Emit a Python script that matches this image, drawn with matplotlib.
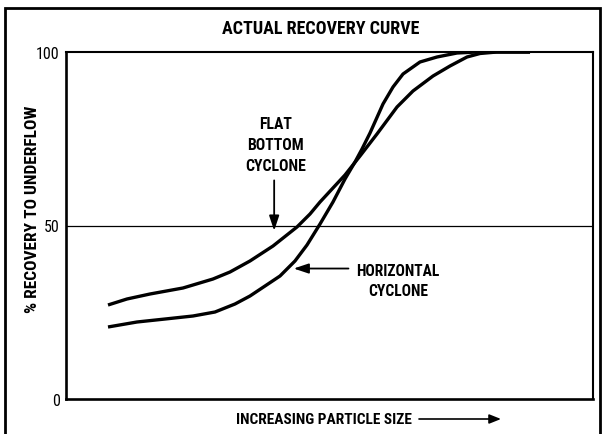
import matplotlib
matplotlib.use("Agg")
import matplotlib.pyplot as plt
from matplotlib.patches import Rectangle, FancyArrowPatch
from matplotlib import font_manager

# ---- data (x = relative particle size 0..100) ----
flat_x = [7.97, 11.57, 15.94, 22.20, 27.89, 31.12, 34.91, 39.28, 43.83, 46.30, 48.20,
          50.66, 52.94, 55.79, 59.01, 62.81, 65.84, 69.64, 72.87, 76.09, 78.56, 81.78,
          85.20, 88.05]
flat_y = [27.09, 28.82, 30.26, 31.99, 34.58, 36.60, 39.77, 44.09, 49.57, 53.31, 56.77,
          60.81, 64.55, 70.03, 76.37, 84.15, 88.76, 93.08, 95.97, 98.56, 99.57, 100.0,
          100.0, 100.0]

horiz_x = [7.97, 13.47, 18.79, 24.10, 28.27, 32.07, 34.91, 37.76, 40.61, 43.45, 45.73,
           48.20, 50.66, 52.94, 54.84, 56.17, 57.69, 60.15, 62.05, 63.95, 67.17, 70.40,
           74.19, 77.99, 82.92, 88.05]
horiz_y = [20.75, 22.19, 23.05, 23.92, 25.07, 27.38, 29.68, 32.56, 35.45, 39.77, 44.38,
           50.43, 56.77, 63.40, 68.30, 72.05, 76.66, 85.01, 89.91, 93.66, 97.12, 98.56,
           99.71, 100.0, 100.0, 100.0]

y_ticks = [0, 50, 100]
y_tick_labels = ["0", "50", "100"]

title = "ACTUAL RECOVERY CURVE"
x_label = "INCREASING PARTICLE SIZE"
y_label = "% RECOVERY TO UNDERFLOW"
flat_label = "FLAT\nBOTTOM\nCYCLONE"
horiz_label = "HORIZONTAL\nCYCLONE"

# ---- font ----
names = {f.name for f in font_manager.fontManager.ttflist}
wanted = ["Roboto Condensed", "Liberation Sans Narrow", "Arial Narrow",
          "Liberation Sans", "DejaVu Sans"]
fams = [n for n in wanted if n in names] or ["DejaVu Sans"]
if "DejaVu Sans" not in fams:
    fams.append("DejaVu Sans")
plt.rcParams["font.family"] = fams

W, H = 602, 435
fig = plt.figure(figsize=(W / 100, H / 100), dpi=100)

# outer frame
fig.patches.append(Rectangle((5 / W, -0.02), 595 / W, (H - 9) / H + 0.02,
                             transform=fig.transFigure, fill=False,
                             edgecolor="black", linewidth=2.0))

ax = fig.add_axes([66 / W, (H - 400) / H, 527 / W, 347 / H])
ax.set_xlim(0, 100)
ax.set_ylim(0, 100)

ax.plot(flat_x, flat_y, color="black", lw=2.4, solid_capstyle="butt",
        solid_joinstyle="round")
ax.plot(horiz_x, horiz_y, color="black", lw=2.4, solid_capstyle="butt",
        solid_joinstyle="round")
ax.axhline(50, color="black", lw=0.9)

for s in ("left", "bottom"):
    ax.spines[s].set_linewidth(1.9)
for s in ("top", "right"):
    ax.spines[s].set_linewidth(1.5)

ax.set_xticks([])
ax.set_yticks(y_ticks)
ax.set_yticklabels(y_tick_labels, fontsize=11.5)
ax.tick_params(axis="y", length=0, pad=4.5)

fig.text(321 / W, 1 - 29 / H, title, ha="center", va="center",
         fontsize=13, fontweight="bold")
fig.text(33 / W, 1 - 209 / H, y_label, ha="center", va="center",
         rotation=90, fontsize=12.5, fontweight="bold")
fig.text(324 / W, 1 - 420 / H, x_label, ha="center", va="center",
         fontsize=11.1, fontweight="bold")
fig.patches.append(FancyArrowPatch(
    (419 / W, 1 - 420 / H), (501 / W, 1 - 420 / H), transform=fig.transFigure,
    arrowstyle="-|>,head_length=7,head_width=2.8", color="black", lw=1.2,
    shrinkA=0, shrinkB=0))

ax.text(39.7, 73.2, flat_label, ha="center", va="center", fontsize=11.3,
        fontweight="bold", linespacing=1.5)
ax.annotate("", xy=(39.5, 48.5), xytext=(39.5, 63),
            arrowprops=dict(arrowstyle="-|>,head_length=0.9,head_width=0.3",
                            color="black", lw=1.3, shrinkA=0, shrinkB=0))

ax.text(63.0, 34.1, horiz_label, ha="center", va="center", fontsize=11.2,
        fontweight="bold", linespacing=1.42)
ax.annotate("", xy=(43.2, 37.6), xytext=(53.6, 37.6),
            arrowprops=dict(arrowstyle="-|>,head_length=0.9,head_width=0.3",
                            color="black", lw=1.3, shrinkA=0, shrinkB=0))

fig.savefig("out.png", dpi=100)
